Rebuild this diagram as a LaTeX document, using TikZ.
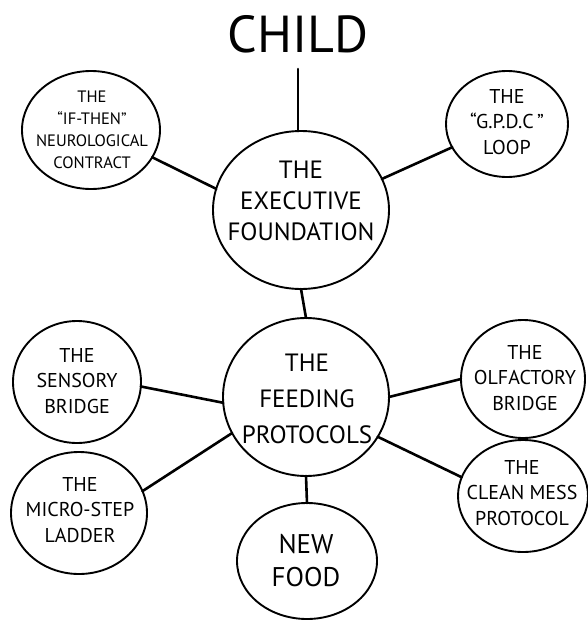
\documentclass[tikz,border=0pt]{standalone}
\usepackage{fontspec}
\setmainfont{PT Sans}
\usetikzlibrary{shapes.geometric}

\tikzset{
  bubble/.style={draw=black, line width=1.9pt, ellipse, inner sep=0pt, outer sep=0pt},
  link/.style={draw=black, line width=2.6pt, line cap=round},
  lbl/.style={align=center, inner sep=0pt, text=black},
  smalltxt/.style={lbl, font=\fontsize{20}{25.5}\selectfont},
  tinytxt/.style={lbl, font=\fontsize{16.5}{22}\selectfont},
  midtxt/.style={lbl, font=\fontsize{25}{31}\selectfont},
  feedtxt/.style={lbl, font=\fontsize{25}{36}\selectfont},
  foodtxt/.style={lbl, font=\fontsize{27}{33}\selectfont},
}

\begin{document}
\begin{tikzpicture}[x=1pt, y=-1pt]
  \useasboundingbox[fill=white] (0,0) rectangle (588,621);

  % title
  \node[lbl, font=\fontsize{52}{52}\selectfont] (child) at (298,34) {CHILD};

  % bubbles
  \node[bubble, minimum width=138pt, minimum height=118pt] (ifthen) at (91,130) {};
  \node[bubble, minimum width=122pt, minimum height=106pt] (gpdc) at (507,124) {};
  \node[bubble, minimum width=176pt, minimum height=158pt] (exec) at (301,210) {};
  \node[bubble, minimum width=128pt, minimum height=122pt] (sensory) at (77,382) {};
  \node[bubble, minimum width=166pt, minimum height=158pt] (feeding) at (306,397) {};
  \node[bubble, minimum width=124pt, minimum height=118pt] (olfactory) at (523,379) {};
  \node[bubble, minimum width=136pt, minimum height=122pt] (micro) at (79,513) {};
  \node[bubble, minimum width=130pt, minimum height=112pt] (clean) at (523,496) {};
  \node[bubble, minimum width=140pt, minimum height=116pt] (newfood) at (307,561) {};

  % labels
  \node[tinytxt] (ifthenT) at (92,130) {THE\\``IF-THEN''\\NEUROLOGICAL\\CONTRACT};
  \node[smalltxt] (gpdcT) at (507,122) {THE\\``G.P.D.C\,''\\LOOP};
  \node[midtxt] (execT) at (301,201) {THE\\EXECUTIVE\\FOUNDATION};
  \node[smalltxt] (sensoryT) at (77,381) {THE\\SENSORY\\BRIDGE};
  \node[feedtxt] (feedingT) at (307,399) {THE\\FEEDING\\PROTOCOLS};
  \node[smalltxt] (olfactoryT) at (525,378) {THE\\OLFACTORY\\BRIDGE};
  \node[smalltxt] (microT) at (80,510) {THE\\MICRO-STEP\\LADDER};
  \node[smalltxt] (cleanT) at (522,493) {THE\\CLEAN MESS\\PROTOCOL};
  \node[foodtxt] (newfoodT) at (306,561) {NEW\\FOOD};

  % connectors
  \draw[link, shorten <=16pt] (child.south) -- (child.south |- exec.north);
  \draw[link] (ifthen.-24) -- (exec.166);
  \draw[link] (gpdc.-157) -- (exec.21);
  \draw[link] (exec.south) -- (feeding.north);
  \draw[link] (sensory.-4) -- (feeding.-176);
  \draw[link] (olfactory.180) -- (feeding.0);
  \draw[link] (micro.19) -- (feeding.-154);
  \draw[link] (clean.163) -- (feeding.-29);
  \draw[link] (feeding.south) -- (newfood.north);
\end{tikzpicture}
\end{document}
